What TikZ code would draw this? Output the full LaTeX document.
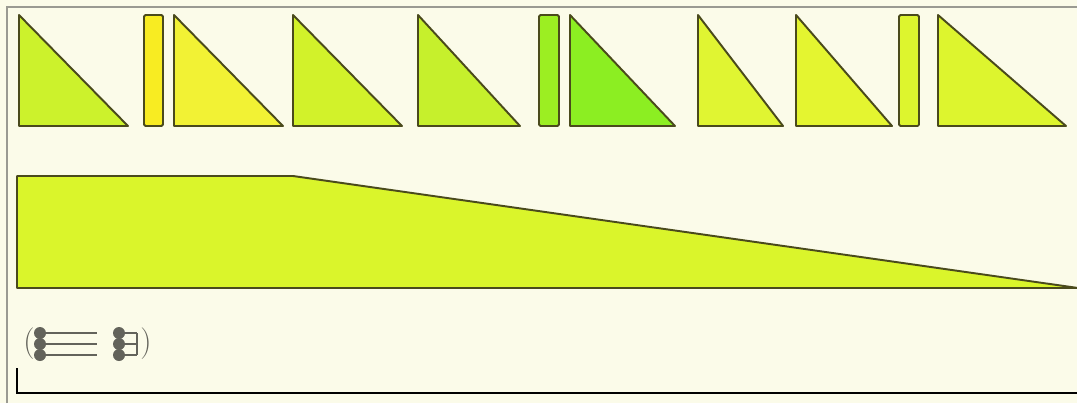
\documentclass[tikz,border=0pt]{standalone}
\usetikzlibrary{positioning}
\definecolor{paper}{HTML}{FBFBE9}
\definecolor{rim}{HTML}{9A9A92}
\definecolor{edge}{HTML}{4A4A1C}
\definecolor{ink}{HTML}{63635B}
\definecolor{limeA}{HTML}{CCF22C}
\definecolor{sunA}{HTML}{F8EC22}
\definecolor{sunB}{HTML}{F2F234}
\definecolor{limeB}{HTML}{D2F22A}
\definecolor{limeC}{HTML}{C6F02C}
\definecolor{grassA}{HTML}{9CEE22}
\definecolor{grassB}{HTML}{8CEE22}
\definecolor{pearA}{HTML}{E0F532}
\definecolor{pearB}{HTML}{E4F530}
\definecolor{pearC}{HTML}{DDF52E}
\definecolor{ramp}{HTML}{DAF52B}

\begin{document}
\begin{tikzpicture}[x=0.02cm, y=-0.02cm,
      tri/.style={draw=edge, line width=1.1pt, line join=round},
      bar/.style={draw=edge, line width=1.1pt, rounded corners=0.8pt},
      glyph/.style={text=ink, font=\fontsize{18}{18}\selectfont, inner sep=0pt},
      stem/.style={draw=ink, line width=0.6pt},
      dot/.style={fill=ink}]
    \fill[paper] (0,0) rectangle (1077,403);
    \useasboundingbox (0,0) rectangle (1077,403);
    \draw[rim, line width=1pt] (7,403) -- (7,7) -- (1077,7);

    % top row
    \filldraw[tri, fill=limeA] (19,15) -- (19,126) -- (128,126) -- cycle;
    \filldraw[bar, fill=sunA] (144,15) rectangle (163,126);
    \filldraw[tri, fill=sunB] (174,15) -- (174,126) -- (283,126) -- cycle;
    \filldraw[tri, fill=limeB] (293,15) -- (293,126) -- (402,126) -- cycle;
    \filldraw[tri, fill=limeC] (418,15) -- (418,126) -- (520,126) -- cycle;
    \filldraw[bar, fill=grassA] (539,15) rectangle (559,126);
    \filldraw[tri, fill=grassB] (570,15) -- (570,126) -- (675,126) -- cycle;
    \filldraw[tri, fill=pearA] (698,15) -- (698,126) -- (783,126) -- cycle;
    \filldraw[tri, fill=pearB] (796,15) -- (796,126) -- (892,126) -- cycle;
    \filldraw[bar, fill=pearC] (899,15) rectangle (919,126);
    \filldraw[tri, fill=pearC] (938,15) -- (938,126) -- (1066,126) -- cycle;

    % long ramp
    \filldraw[tri, fill=ramp] (17,176) -- (293,176) -- (1078,288) -- (17,288) -- cycle;

    % glyph row
    \node[glyph] (open) at (29,344) {(};
    \foreach \y in {333,344,355} {
      \draw[stem] (40,\y) -- (97,\y);
      \draw[stem] (119,\y) -- (137,\y);
    }
    \draw[stem] (137,333) -- (137,355);
    \foreach \y in {333,344,355} {
      \fill[dot] (40,\y) circle (6);
      \fill[dot] (119,\y) circle (6);
    }
    \node[glyph] (close) at (146,344) {)};
    \node[glyph, anchor=west] (nextopen) at (1074,344) {(};

    \draw[black, line width=1.6pt] (17,368) -- (17,393) -- (1077,393);
  \end{tikzpicture}
\end{document}
